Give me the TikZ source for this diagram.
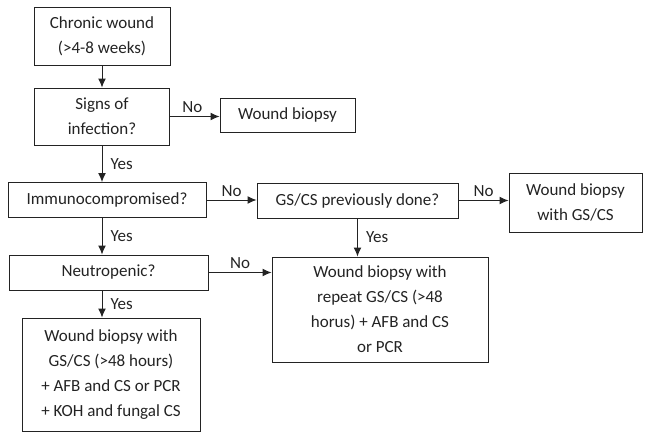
\documentclass[tikz,border=0pt]{standalone}
\usepackage{fontspec}
\setmainfont{Carlito}
\usetikzlibrary{arrows.meta}
\definecolor{inkgray}{RGB}{35,35,35}

\begin{document}
\begin{tikzpicture}[x=1pt, y=-1pt,
    flowbox/.style={draw=inkgray, line width=1pt, align=center, inner sep=0pt,
        font=\fontsize{17}{25}\selectfont, text=inkgray},
    flowarrow/.style={draw=inkgray, line width=1pt, -{Latex[length=9pt, width=8pt]}},
    lbl/.style={font=\fontsize{17}{20}\selectfont, text=inkgray, inner sep=3pt},
    yeslbl/.style={lbl, right, xshift=5pt}]
    \useasboundingbox (0,0) rectangle (645,432);

    % left column
    \node[flowbox, minimum width=136, minimum height=58] (chronic) at (102,36) {Chronic wound\\(>4-8 weeks)};
    \node[flowbox, minimum width=135, minimum height=57] (signs) at (102,116.5) {Signs of\\infection?};
    \node[flowbox, minimum width=198, minimum height=35] (immuno) at (107,200) {Immunocompromised?};
    \node[flowbox, minimum width=199, minimum height=35] (neutro) at (108.5,272.5) {Neutropenic?};
    \node[flowbox, minimum width=178, minimum height=113] (fullbx) at (111,374.5) {Wound biopsy with\\GS/CS (>48 hours)\\+ AFB and CS or PCR\\+ KOH and fungal CS};

    % right side
    \node[flowbox, minimum width=135, minimum height=34] (biopsy) at (287.5,115) {Wound biopsy};
    \node[flowbox, minimum width=201, minimum height=35] (prevgs) at (357.5,200.5) {GS/CS previously done?};
    \node[flowbox, minimum width=133, minimum height=59] (biopsygs) at (575.5,202.5) {Wound biopsy\\with GS/CS};
    \node[flowbox, minimum width=216, minimum height=105] (repeat) at (380,309.5) {Wound biopsy with\\repeat GS/CS (>48\\horus) + AFB and CS\\or PCR};

    % connectors
    \draw[flowarrow] (chronic) -- (signs);
    \draw[flowarrow] (signs.east) -- node[lbl, pos=0.45, above] {No} (signs.east -| biopsy.west);
    \draw[flowarrow] (signs.south) -- node[yeslbl, midway] {Yes} (signs.south |- immuno.north);
    \draw[flowarrow] (immuno.east) -- node[lbl, midway, above] {No} (immuno.east -| prevgs.west);
    \draw[flowarrow] (prevgs.east) -- node[lbl, midway, above] {No} (prevgs.east -| biopsygs.west);
    \draw[flowarrow] (prevgs.south) -- node[yeslbl, midway] {Yes} (prevgs.south |- repeat.north);
    \draw[flowarrow] (signs.south |- immuno.south) -- node[yeslbl, midway] {Yes} (signs.south |- neutro.north);
    \draw[flowarrow] (neutro.east) -- node[lbl, midway, above] {No} (neutro.east -| repeat.west);
    \draw[flowarrow] (signs.south |- neutro.south) -- node[yeslbl, midway] {Yes} (signs.south |- fullbx.north);
\end{tikzpicture}
\end{document}
